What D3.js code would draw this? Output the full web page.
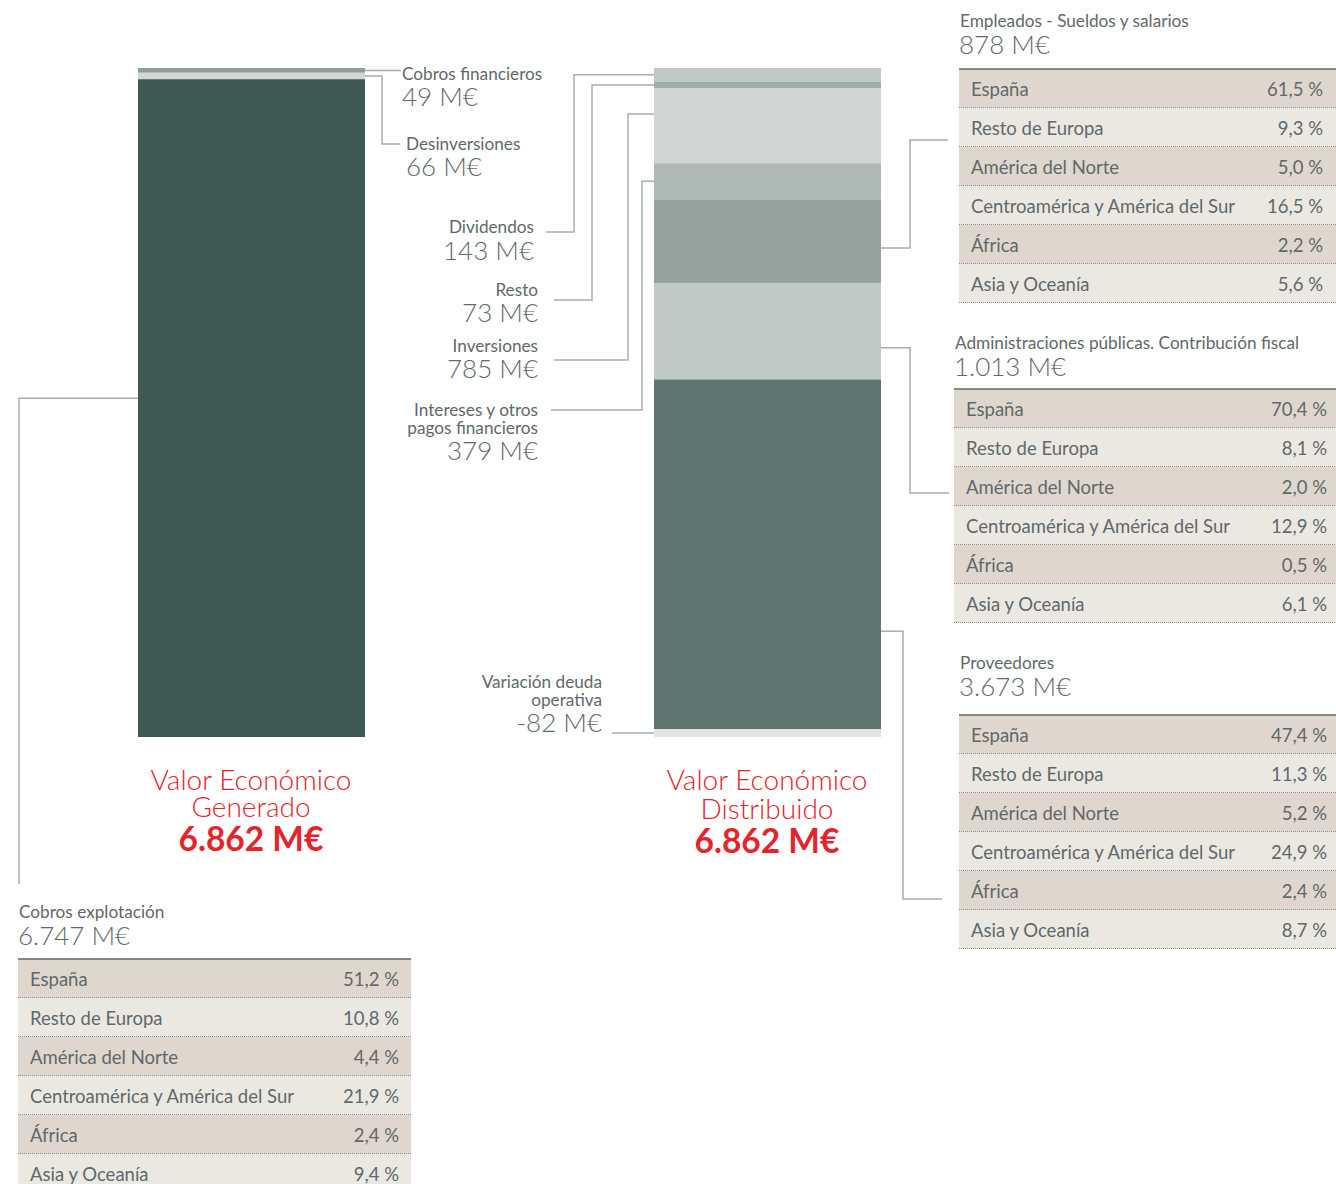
<!DOCTYPE html>
<html lang="es">
<head>
<meta charset="UTF-8">
<title>Valor económico generado y distribuido</title>
<style>
    body { margin: 0; background: #fff; }
    svg text { font-family: Lato, "Open Sans", sans-serif; }
</style>
</head>
<body>
<script src="https://d3js.org/d3.v7.min.js"></script>
<script>
// datos (M€ y %)
const generadoNames = ['Cobros financieros', 'Desinversiones', 'Cobros explotación']
const generadoValues = [49, 66, 6747]
const distribuidoNames = ['Dividendos', 'Resto', 'Inversiones', 'Intereses y otros pagos financieros',
    'Empleados - Sueldos y salarios', 'Administraciones públicas. Contribución fiscal', 'Proveedores',
    'Variación deuda operativa']
const distribuidoValues = [143, 73, 785, 379, 878, 1013, 3673, -82]
const totalGenerado = 6862
const totalDistribuido = 6862

const regions = ['España', 'Resto de Europa', 'América del Norte', 'Centroamérica y América del Sur', 'África', 'Asia y Oceanía']
const cobrosPct = [51.2, 10.8, 4.4, 21.9, 2.4, 9.4]
const empleadosPct = [61.5, 9.3, 5.0, 16.5, 2.2, 5.6]
const adminPct = [70.4, 8.1, 2.0, 12.9, 0.5, 6.1]
const proveedoresPct = [47.4, 11.3, 5.2, 24.9, 2.4, 8.7]

const width = 1336
const height = 1184
const barTop = 68
const barBottom = 737
const barW = 227
const grey = '#5f686b'
const red = '#e4232b'
const lineColor = '#a9adad'
const smallSize = 17.2

const es = d3.formatLocale({ decimal: ',', thousands: '.', grouping: [3], currency: ['', ''], minus: '-' })
const fmtM = v => es.format(',d')(v) + ' M€'
const fmtPct = v => es.format('.1f')(v) + ' %'

const svg = d3.select('body').append('svg')
    .attr('width', width)
    .attr('height', height)

function stack(values) {
    let acc = 0
    return values.map(v => {
        const s = { start: acc, end: acc + Math.abs(v), value: v }
        acc += Math.abs(v)
        return s
    })
}

function drawBar(x, names, values, colors) {
    const st = stack(values)
    const y = d3.scaleLinear()
        .domain([0, d3.sum(values, v => Math.abs(v))])
        .range([barTop, barBottom])
    svg.append('g').selectAll('rect')
        .data(st)
        .join('rect')
        .attr('x', x)
        .attr('y', d => y(d.start))
        .attr('width', barW)
        .attr('height', d => y(d.end) - y(d.start))
        .attr('fill', (d, i) => colors[i])
    // point on a segment, f = fraction of its height
    return (i, f) => y(st[i].start + (st[i].end - st[i].start) * f)
}

function connector(points) {
    svg.append('path')
        .attr('d', d3.line()(points))
        .attr('fill', 'none')
        .attr('stroke', lineColor)
        .attr('stroke-width', 1.5)
}

function label(x, anchor, nameLines, nameY, value, valueY) {
    const g = svg.append('g').attr('text-anchor', anchor).attr('fill', grey)
    nameLines.forEach((t, i) => {
        g.append('text').attr('x', x).attr('y', nameY + i * 18)
            .attr('font-size', smallSize).text(t)
    })
    g.append('text').attr('x', x).attr('y', valueY)
        .attr('font-size', 26).attr('font-weight', 300).text(fmtM(value))
}

function drawTable(x, right, valueRight, titleY, title, total, top, pcts) {
    svg.append('text').attr('x', x + 1).attr('y', titleY)
        .attr('font-size', smallSize).attr('fill', grey).text(title)
    svg.append('text').attr('x', x).attr('y', titleY + 27)
        .attr('font-size', 26).attr('font-weight', 300).attr('fill', grey).text(fmtM(total))

    const rowH = 39
    const rows = svg.append('g').selectAll('g')
        .data(regions.map((r, i) => ({ region: r, pct: pcts[i] })))
        .join('g')
        .attr('transform', (d, i) => `translate(0,${top + i * rowH})`)
    rows.append('rect')
        .attr('x', x).attr('width', right - x).attr('height', rowH)
        .attr('fill', (d, i) => i % 2 ? '#ebe8e2' : '#dfd7ce')
    rows.append('line')
        .attr('x1', x).attr('x2', right).attr('y1', rowH - 0.5).attr('y2', rowH - 0.5)
        .attr('stroke', '#8e918f').attr('stroke-width', 1).attr('stroke-dasharray', '1,1')
    rows.append('text')
        .attr('x', x + 12).attr('y', 27)
        .attr('font-size', 18.5).attr('fill', grey)
        .text(d => d.region)
    rows.append('text')
        .attr('x', valueRight).attr('y', 27).attr('text-anchor', 'end')
        .attr('font-size', 18.5).attr('fill', grey)
        .text(d => fmtPct(d.pct))
    svg.append('line')
        .attr('x1', x).attr('x2', right).attr('y1', top).attr('y2', top)
        .attr('stroke', '#5b6b68').attr('stroke-width', 1.5)
}

// barras
const genAt = drawBar(138, generadoNames, generadoValues, ['#8e9d99', '#d2d8d6', '#3f5954'])
const disAt = drawBar(654, distribuidoNames, distribuidoValues,
    ['#bfc8c5', '#9fadaa', '#d0d6d5', '#adb9b7', '#94a3a0', '#bfc9c6', '#607572', '#e0e4e2'])

// generado
connector([[365, genAt(0, 0.5)], [401, genAt(0, 0.5)]])
label(402, 'start', [generadoNames[0]], 80, generadoValues[0], 106)
connector([[365, genAt(1, 0.5)], [382, genAt(1, 0.5)], [382, 144], [400, 144]])
label(406, 'start', [generadoNames[1]], 150, generadoValues[1], 176)
connector([[138, genAt(2, 0.485)], [19, genAt(2, 0.485)], [19, 884]])
drawTable(18, 411, 399, 918, generadoNames[2], generadoValues[2], 959, cobrosPct)

// distribuido, izquierda
connector([[654, disAt(0, 0.5)], [574, disAt(0, 0.5)], [574, 232], [546, 232]])
label(534, 'end', [distribuidoNames[0]], 233, distribuidoValues[0], 260)
connector([[654, disAt(1, 0.5)], [592, disAt(1, 0.5)], [592, 300], [554, 300]])
label(538, 'end', [distribuidoNames[1]], 296, distribuidoValues[1], 322)
connector([[654, disAt(2, 0.34)], [628, disAt(2, 0.34)], [628, 360], [554, 360]])
label(538, 'end', [distribuidoNames[2]], 352, distribuidoValues[2], 378)
connector([[654, disAt(3, 0.5)], [642, disAt(3, 0.5)], [642, 410], [551, 410]])
label(538, 'end', ['Intereses y otros', 'pagos financieros'], 416, distribuidoValues[3], 460)
connector([[654, disAt(7, 0.5)], [612, disAt(7, 0.5)]])
label(602, 'end', ['Variación deuda', 'operativa'], 688, distribuidoValues[7], 732)

// distribuido, derecha
connector([[881, disAt(4, 0.58)], [910, disAt(4, 0.58)], [910, 140], [948, 140]])
drawTable(959, 1336, 1323, 27, distribuidoNames[4], distribuidoValues[4], 69, empleadosPct)
connector([[881, disAt(5, 0.67)], [910, disAt(5, 0.67)], [910, 493], [949, 493]])
drawTable(954, 1336, 1327, 349, distribuidoNames[5], distribuidoValues[5], 389, adminPct)
connector([[881, disAt(6, 0.72)], [903, disAt(6, 0.72)], [903, 899], [942, 899]])
drawTable(959, 1336, 1327, 669, distribuidoNames[6], distribuidoValues[6], 715, proveedoresPct)

// títulos en rojo
function redTitle(cx, lines, lineYs, total, totalY) {
    const g = svg.append('g').attr('text-anchor', 'middle').attr('fill', red)
    lines.forEach((t, i) => {
        g.append('text').attr('x', cx).attr('y', lineYs[i])
            .attr('font-size', 28).attr('font-weight', 300).text(t)
    })
    g.append('text').attr('x', cx).attr('y', totalY)
        .attr('font-size', 33.5).attr('font-weight', 700).text(fmtM(total))
}
redTitle(251, ['Valor Económico', 'Generado'], [790, 817], totalGenerado, 851)
redTitle(767, ['Valor Económico', 'Distribuido'], [790, 819], totalDistribuido, 853)
</script>
</body>
</html>
